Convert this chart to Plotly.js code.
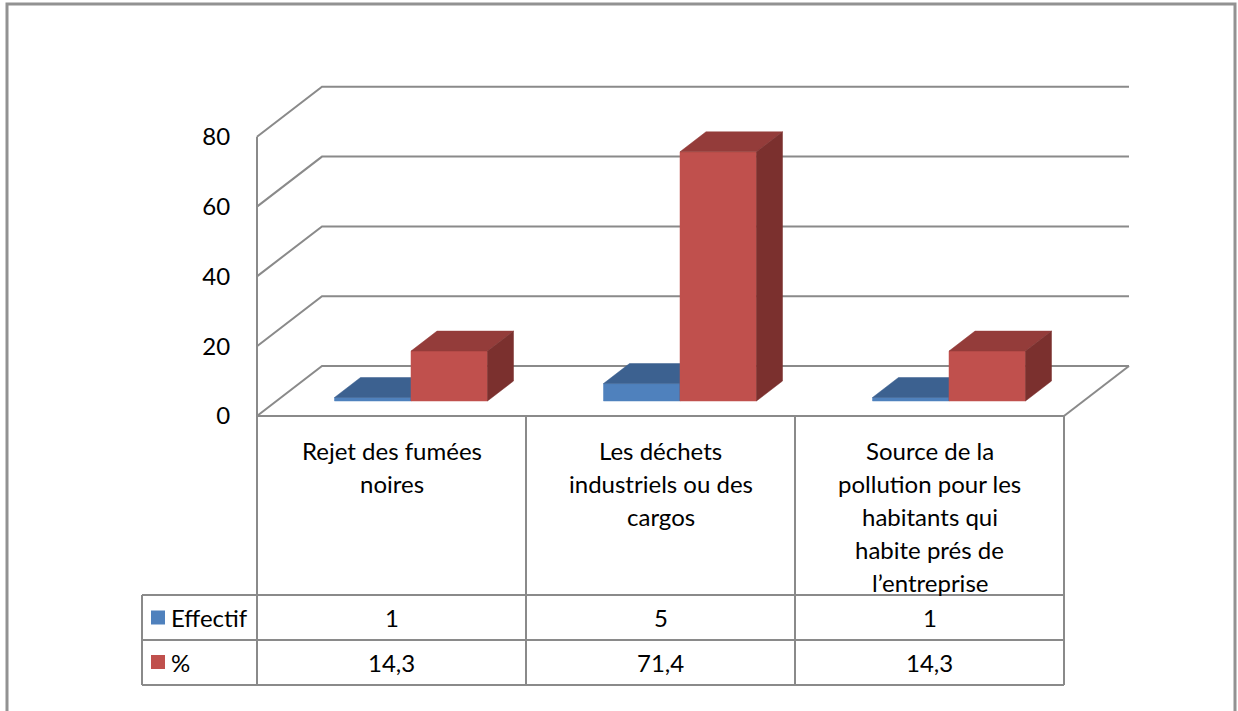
<!DOCTYPE html>
<html>
<head>
<meta charset="utf-8">
<script src="https://cdn.plot.ly/plotly-3.0.1.min.js"></script>
<style>
  html, body { margin: 0; padding: 0; background: #ffffff; }
  #chart { width: 1238px; height: 711px; }
</style>
</head>
<body>
<div id="chart"></div>
<script>
// ---- data ----
const categories = [
  "Rejet des fumées\nnoires",
  "Les déchets\nindustriels ou des\ncargos",
  "Source de la\npollution pour les\nhabitants qui\nhabite prés de\nl’entreprise"
];
const seriesNames = ["Effectif", "%"];
const effectif = [1, 5, 1];
const percent = [14.3, 71.4, 14.3];
const yTicks = [0, 20, 40, 60, 80];

// ---- page geometry (pixels) ----
const W = 1238, H = 711;
const CAT0_PX = 391.5;      // centre of first category column
const CAT_PX = 269;         // column width
const ZERO_PX = 416;        // value 0 on the front plane
const VAL_PX = 3.49;        // pixels per value unit
const DEPTH_PX = [65, 50];  // floor depth offset (right, up)

const DU = DEPTH_PX[0] / CAT_PX;   // depth in category units
const DV = DEPTH_PX[1] / VAL_PX;   // depth in value units
const F0 = 0.3, F1 = 0.7;          // bars sit between these depth fractions
const BAR_W = 76.5 / CAT_PX;       // width of one column

const px2x = px => (px - CAT0_PX) / CAT_PX;
const py2p = py => 1 - py / H;
const px2p = px => px / W;

const colors = {
  blue:  { front: "#4F81BD", top: "#3C6190", side: "#35557E" },
  red:   { front: "#C0504D", top: "#943C3A", side: "#7B302E" }
};
const GRID = "#8A8A8A";
const FONT = "Lato, 'Open Sans', sans-serif";
const FONT_SIZE = 24;

// ---- walls: gridlines on the side and back walls ----
const xFrontL = -0.5, xFrontR = categories.length - 0.5;
const gx = [], gy = [];
yTicks.forEach(v => {
  gx.push(xFrontL, xFrontL + DU, xFrontR + DU, null);
  gy.push(v, v + DV, v + DV, null);
});
const traces = [];
traces.push({
  x: gx, y: gy, mode: "lines", type: "scatter",
  line: { color: GRID, width: 2 }, hoverinfo: "skip", showlegend: false
});
// front value axis and right floor edge
traces.push({
  x: [xFrontL, xFrontL, null, xFrontR, xFrontR + DU],
  y: [0, yTicks[yTicks.length - 1], null, 0, DV],
  mode: "lines", type: "scatter",
  line: { color: GRID, width: 2 }, hoverinfo: "skip", showlegend: false
});

// ---- 3D columns ----
function faces(values, offset) {
  const front = { x: [], y: [] }, top = { x: [], y: [] }, side = { x: [], y: [] };
  values.forEach((h, i) => {
    const xl = i + offset, xr = xl + BAR_W;
    const a0 = F0 * DU, a1 = F1 * DU, b0 = F0 * DV, b1 = F1 * DV;
    front.x.push(xl + a0, xr + a0, xr + a0, xl + a0, xl + a0, null);
    front.y.push(b0, b0, b0 + h, b0 + h, b0, null);
    top.x.push(xl + a0, xr + a0, xr + a1, xl + a1, xl + a0, null);
    top.y.push(b0 + h, b0 + h, b1 + h, b1 + h, b0 + h, null);
    side.x.push(xr + a0, xr + a1, xr + a1, xr + a0, xr + a0, null);
    side.y.push(b0, b1, b1 + h, b0 + h, b0, null);
  });
  return { front, top, side };
}
function pushFaces(f, pal, name) {
  ["front", "top", "side"].forEach(k => {
    traces.push({
      x: f[k].x, y: f[k].y, type: "scatter", mode: "lines",
      fill: "toself", fillcolor: pal[k],
      line: { color: pal[k], width: 0.5 },
      name: name, hoverinfo: "skip", showlegend: false
    });
  });
}
pushFaces(faces(effectif, -BAR_W), colors.blue, seriesNames[0]);
pushFaces(faces(percent, 0), colors.red, seriesNames[1]);

// ---- data table ----
const TABLE = { legendL: 142, top: 416, catBottom: 595, row1: 640, row2: 685 };
const shapes = [];
const line = (x0, y0, x1, y1, xref) => shapes.push({
  type: "line", xref: xref, yref: "paper",
  x0: x0, x1: x1, y0: py2p(y0), y1: py2p(y1),
  line: { color: GRID, width: 2 }
});
// verticals between categories
for (let i = 0; i <= categories.length; i++) {
  line(i - 0.5, TABLE.top, i - 0.5, TABLE.row2, "x");
}
line(xFrontL, TABLE.top, xFrontR, TABLE.top, "x");
[TABLE.catBottom, TABLE.row1, TABLE.row2].forEach(py => {
  line(px2x(TABLE.legendL), py, xFrontR, py, "x");
});
line(px2x(TABLE.legendL), TABLE.catBottom, px2x(TABLE.legendL), TABLE.row2, "x");

// outer frame
shapes.push({
  type: "rect", xref: "paper", yref: "paper",
  x0: px2p(7), x1: px2p(1235), y0: py2p(730), y1: py2p(4),
  line: { color: "#929292", width: 3 }
});

const annotations = [];
const txt = (x, xref, py, text, xanchor) => annotations.push({
  x: x, xref: xref, y: py2p(py), yref: "paper",
  text: text, showarrow: false, xanchor: xanchor || "center", yanchor: "middle",
  font: { family: FONT, size: FONT_SIZE, color: "#000000" }
});
// category labels, top aligned in their cells
categories.forEach((c, i) => {
  c.split("\n").forEach((ln, k) => txt(i, "x", 450 + k * 33, ln));
});
// legend keys and values
const rows = [
  { name: seriesNames[0], vals: effectif, color: colors.blue.front, cy: 617.5 },
  { name: seriesNames[1], vals: percent, color: colors.red.front, cy: 662 }
];
rows.forEach(r => {
  shapes.push({
    type: "rect", xref: "paper", yref: "paper",
    x0: px2p(151), x1: px2p(165), y0: py2p(r.cy + 7), y1: py2p(r.cy - 7),
    fillcolor: r.color, line: { width: 0 }
  });
  txt(px2p(169), "paper", r.cy, r.name, "left");
  r.vals.forEach((v, i) => txt(i, "x", r.cy, String(v).replace(".", ","), "center"));
});

const layout = {
  width: W, height: H,
  margin: { l: 0, r: 0, t: 0, b: 0 },
  paper_bgcolor: "#ffffff", plot_bgcolor: "rgba(0,0,0,0)",
  showlegend: false, hovermode: false,
  xaxis: {
    range: [px2x(0), px2x(W)], visible: false, fixedrange: true
  },
  yaxis: {
    range: [(ZERO_PX - H) / VAL_PX, ZERO_PX / VAL_PX],
    anchor: "free", position: 257 / W,
    tickvals: yTicks, ticktext: yTicks.map(String),
    ticks: "outside", ticklen: 22, tickcolor: "rgba(0,0,0,0)",
    showgrid: false, zeroline: false, showline: false, fixedrange: true,
    tickfont: { family: FONT, size: FONT_SIZE, color: "#000000" }
  },
  shapes: shapes,
  annotations: annotations
};

Plotly.newPlot("chart", traces, layout, { displayModeBar: false, staticPlot: true });
</script>
</body>
</html>
